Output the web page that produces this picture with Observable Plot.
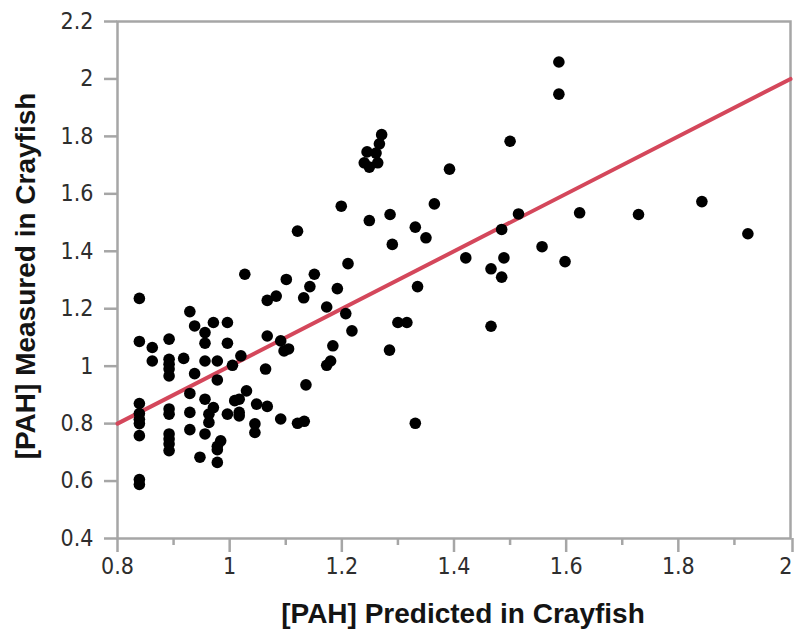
<!DOCTYPE html>
<html>
<head>
<meta charset="utf-8">
<script src="https://cdn.jsdelivr.net/npm/d3@7"></script>
<script src="https://cdn.jsdelivr.net/npm/@observablehq/plot@0.6"></script>
<style>
  html, body { margin: 0; padding: 0; background: #ffffff; }
  #chart { width: 794px; height: 631px; }
</style>
</head>
<body>
<div id="chart"></div>
<script>
const predicted = [
  0.839,0.929,1.067,1.083,1.132,1.101,0.9375,0.971,0.996,0.956,
  0.839,0.892,0.956,0.996,0.862,1.067,1.091,1.097,1.105,0.862,
  0.892,0.892,0.892,0.892,0.918,0.956,0.978,1.020,1.005,0.9375,
  0.978,1.064,1.136,0.929,1.030,0.839,0.839,0.839,0.839,0.839,
  0.892,0.892,0.892,0.892,0.892,0.892,0.956,0.971,0.963,0.963,
  0.929,0.929,0.956,0.996,1.009,1.017,1.017,1.017,1.048,1.067,
  1.091,1.045,1.045,1.121,1.133,0.984,0.978,0.978,0.947,0.978,
  0.839,0.839,
  1.271,1.267,1.245,1.261,1.240,1.249,1.264,1.199,1.365,1.249,
  1.286,1.331,1.350,1.290,1.121,1.211,1.027,1.151,1.143,1.192,
  1.335,
  1.587,1.587,1.500,1.392,1.515,1.485,1.624,1.729,1.842,1.924,
  1.421,1.557,1.489,1.466,1.485,1.598,1.466,
  1.173,1.207,1.218,1.300,1.316,1.184,1.285,1.173,1.180,1.331
];
const measured = [
  1.236,1.190,1.229,1.244,1.238,1.302,1.140,1.152,1.152,1.117,
  1.086,1.094,1.080,1.080,1.065,1.105,1.088,1.053,1.060,1.018,
  1.024,1.007,0.990,0.966,1.027,1.018,1.018,1.036,1.003,0.974,
  0.952,0.990,0.935,0.905,0.914,0.870,0.835,0.815,0.800,0.758,
  0.851,0.833,0.764,0.746,0.729,0.706,0.885,0.856,0.833,0.804,
  0.839,0.779,0.764,0.833,0.880,0.885,0.839,0.827,0.868,0.860,
  0.816,0.799,0.769,0.801,0.808,0.740,0.721,0.709,0.683,0.665,
  0.605,0.588,
  1.806,1.774,1.746,1.742,1.708,1.693,1.708,1.557,1.565,1.507,
  1.528,1.484,1.447,1.424,1.470,1.357,1.320,1.320,1.277,1.270,
  1.277,
  2.059,1.947,1.783,1.686,1.530,1.476,1.534,1.528,1.573,1.461,
  1.377,1.416,1.377,1.339,1.310,1.364,1.139,
  1.206,1.183,1.123,1.152,1.152,1.071,1.056,1.003,1.018,0.801
];
const lineX = [0.8, 2.0];
const lineY = [0.8, 2.0];
const xTicks = [0.8, 1, 1.2, 1.4, 1.6, 1.8];
const xTickLabels = ["0.8", "1", "1.2", "1.4", "1.6", "1.8"];
const xLastTick = [2];
const xLastTickLabel = ["2"];
const xMinorTicks = [0.9, 1.1, 1.3, 1.5, 1.7, 1.9];
const yTicks = [0.4, 0.6, 0.8, 1, 1.2, 1.4, 1.6, 1.8, 2, 2.2];
const yTickLabels = ["0.4", "0.6", "0.8", "1", "1.2", "1.4", "1.6", "1.8", "2", "2.2"];
const xTitle = "[PAH] Predicted in Crayfish";
const yTitle = "[PAH] Measured in Crayfish";

const points = predicted.map((p, i) => ({p, m: measured[i]}));
const fitLine = lineX.map((x, i) => ({x, y: lineY[i]}));

const axisGray = "#a6a6a6";
const tickFont = "'DejaVu Sans Condensed', 'Liberation Sans Narrow', sans-serif";
const titleFont = "'Liberation Sans', Arial, sans-serif";
const tickStyle = {
  stroke: axisGray, strokeWidth: 2.5, fill: "#2e2e2e",
  fontSize: 23, fontFamily: tickFont, label: null
};

const chart = Plot.plot({
  width: 794,
  height: 631,
  marginLeft: 117,
  marginRight: 4,
  marginTop: 21,
  marginBottom: 93,
  style: {background: "#ffffff", overflow: "visible"},
  x: {domain: [0.8, 2.0]},
  y: {domain: [0.4, 2.2]},
  marks: [
    Plot.frame({stroke: axisGray, strokeWidth: 2.5}),
    Plot.axisX({
      ticks: xMinorTicks, tickSize: 7, tickFormat: () => "",
      stroke: axisGray, strokeWidth: 2.5, label: null
    }),
    Plot.axisX({
      ticks: xTicks, tickSize: 14, tickPadding: 5,
      tickFormat: (d) => xTickLabels[xTicks.indexOf(d)],
      ...tickStyle
    }),
    Plot.axisX({
      ticks: xLastTick, tickSize: 14, tickPadding: 5,
      tickFormat: (d) => xLastTickLabel[xLastTick.indexOf(d)],
      textAnchor: "end", dx: 2,
      ...tickStyle
    }),
    Plot.axisY({
      ticks: yTicks, tickSize: 13, tickPadding: 11,
      tickFormat: (d) => yTickLabels[yTicks.indexOf(d)],
      ...tickStyle
    }),
    Plot.line(fitLine, {x: "x", y: "y", stroke: "#d4475b", strokeWidth: 4}),
    Plot.dot(points, {x: "p", y: "m", r: 5.8, fill: "#000000", stroke: "none"}),
    Plot.text([xTitle], {
      frameAnchor: "bottom", dy: 76, dx: 9, fontSize: 28, fontWeight: "bold",
      fontFamily: titleFont, fill: "#141414", lineAnchor: "middle", textAnchor: "middle"
    }),
    Plot.text([yTitle], {
      frameAnchor: "left", dx: -91, dy: -4, rotate: -90, fontSize: 28, fontWeight: "bold",
      fontFamily: titleFont, fill: "#141414", lineAnchor: "middle", textAnchor: "middle"
    })
  ]
});
document.getElementById("chart").appendChild(chart);
</script>
</body>
</html>
